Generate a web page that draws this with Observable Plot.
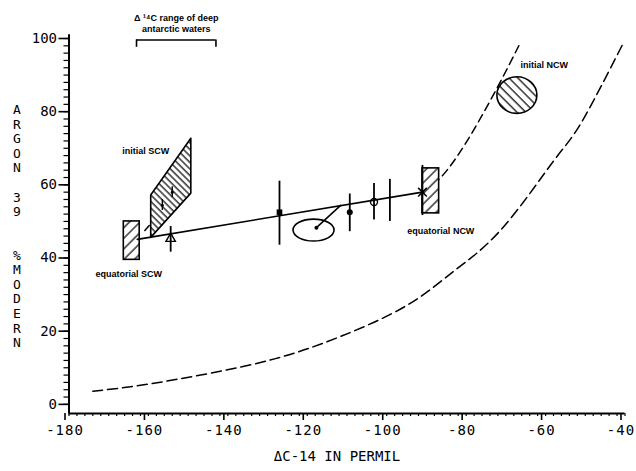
<!DOCTYPE html>
<html><head><meta charset="utf-8">
<script src="https://cdn.jsdelivr.net/npm/d3@7"></script>
<script src="https://cdn.jsdelivr.net/npm/@observablehq/plot@0.6"></script>
<style>
body{margin:0;background:#fff}
svg{display:block}
[aria-label="x-axis tick label"]{letter-spacing:1px}
</style>
</head><body><div id="chart"></div>
<script>
// ---- axis ticks ----
const xTicks = [-180, -160, -140, -120, -100, -80, -60, -40];
const yTicks = [0, 20, 40, 60, 80, 100];
const xMinor = d3.range(-180, -39, 2);
const yMinor = d3.range(0, 101, 2);

// ---- regression line ----
const regX = [-162.8, -91];
const regY = [45.1, 58.0];

// ---- measured points with error bars ----
const ptX   = [-154.4, -127, -109.3, -103.2, -99.2, -91];
const ptY   = [45.3, 52.5, 52.5, 55.3, 56.0, 58.0];
const ptLo  = [41.6, 43.5, 47.2, 50.4, 50.0, 51.6];
const ptHi  = [48.6, 61.0, 57.5, 60.4, 61.5, 65.3];
const ptSym = ["triangle", "square", "circle", "opencircle", "none", "times"];

// small points inside initial SCW box
const smallX  = [-156.5, -154.0];
const smallY  = [54.4, 58.0];
const smallLo = [53.0, 56.5];
const smallHi = [56.0, 59.5];

// ---- boxes ----
const boxX1 = [-166.2, -91.0];
const boxX2 = [-162.2, -86.8];
const boxY1 = [39.5, 52.2];
const boxY2 = [50.0, 64.5];

// initial SCW quadrilateral
const paraX  = [-159.3, -149.2];
const paraY1 = [45.5, 57.6];
const paraY2 = [57.1, 72.6];

// ellipses (cx, cy, rx, ry in data units)
const ellCx = [-118.3, -67.1];
const ellCy = [47.5, 84.4];
const ellRx = [5.16, 5.04];
const ellRy = [3.0, 5.0];
const ellFill = ["none", "url(#hatchB)"];

// connector from ellipse to line
const connX = [-117.7, -111.6];
const connY = [48.3, 54.4];

// ---- dashed curves ----
const upperX = [-91, -86.3, -79.7, -72.1, -66.7];
const upperY = [58, 62.1, 72.1, 86.7, 98.1];
const lowerX = [-174, -162, -145, -128, -112, -95, -83, -71, -58, -51, -40.5];
const lowerY = [3.6, 5.2, 8.4, 12.5, 18.4, 27, 36.5, 48, 66.5, 77, 98.6];
const dashX = [-160.9, -159.8];
const dashY = [47.5, 48.9];

// ---- bracket ----
const bracketX = [-163, -143];
const bracketY = 99.6;
const bracketTickY = 97.6;

// ---- labels ----
const labelText = ["initial SCW", "equatorial SCW", "equatorial NCW", "initial NCW"];
const labelX = [-166.6, -173.3, -94.8, -66.3];
const labelY = [69.2, 35.5, 47.3, 92.6];
const topText = "Δ ¹⁴C range of deep\nantarctic waters";
const topX = -153, topY = 104.2;
const yTitle = "A\nR\nG\nO\nN\n\n3\n9\n\n\n%\nM\nO\nD\nE\nR\nN";
const xTitle = "ΔC-14 IN PERMIL";

// ---- build tables ----
const pts = ptX.map((x, i) => ({x, y: ptY[i], lo: ptLo[i], hi: ptHi[i], s: ptSym[i]}));
const small = smallX.map((x, i) => ({x, y: smallY[i], lo: smallLo[i], hi: smallHi[i]}));
const boxes = boxX1.map((x1, i) => ({x1, x2: boxX2[i], y1: boxY1[i], y2: boxY2[i]}));
const para = paraX.map((x, i) => ({x, y1: paraY1[i], y2: paraY2[i]}));
const reg = regX.map((x, i) => ({x, y: regY[i]}));
const upper = upperX.map((x, i) => ({x, y: upperY[i]}));
const lower = lowerX.map((x, i) => ({x, y: lowerY[i]}));
const dash = dashX.map((x, i) => ({x, y: dashY[i]}));
const conn = connX.map((x, i) => ({x, y: connY[i]}));
const labels = labelText.map((t, i) => ({t, x: labelX[i], y: labelY[i]}));

const annFont = "Liberation Sans";
const sym = s => d => d.s === s;

const ellipseMark = (index, scales) => {
  const g = d3.create("svg:g");
  ellCx.forEach((cx, i) => {
    const px = scales.x(cx), py = scales.y(ellCy[i]);
    const rx = Math.abs(scales.x(cx + ellRx[i]) - px);
    const ry = Math.abs(scales.y(ellCy[i] + ellRy[i]) - py);
    g.append("ellipse").attr("cx", px).attr("cy", py).attr("rx", rx).attr("ry", ry)
      .attr("fill", ellFill[i]).attr("stroke", "black").attr("stroke-width", 1.6);
  });
  return g.node();
};

const svg = Plot.plot({
  width: 636, height: 471,
  marginLeft: 68.5, marginRight: 11.5, marginTop: 38, marginBottom: 58,
  style: {fontFamily: "DejaVu Sans Mono", fontSize: "14px", color: "black", background: "white"},
  x: {domain: [-180, -40], label: null},
  y: {domain: [-2.5, 100], label: null},
  marks: [
    // axes
    Plot.axisX(xMinor, {anchor: "bottom", tickSize: 3, tickFormat: () => "", label: null, strokeWidth: 1.2}),
    Plot.axisX(xTicks, {anchor: "bottom", tickSize: 7, tickPadding: 5, dx: -4, tickFormat: d => String(d), label: null, strokeWidth: 1.6, fontSize: 14}),
    Plot.axisY(yMinor, {anchor: "left", tickSize: 5, tickFormat: () => "", label: null, strokeWidth: 1.2}),
    Plot.axisY(yTicks, {anchor: "left", tickSize: 10, tickPadding: 2, tickFormat: d => String(d), label: null, strokeWidth: 1.6, fontSize: 14}),
    Plot.ruleX([-180], {y1: -2.5, y2: 101, strokeWidth: 2}),
    Plot.ruleY([-2.5], {x1: -180, x2: -40, strokeWidth: 2}),
    // axis titles
    Plot.text([yTitle], {text: d => d, frameAnchor: "left", dx: -56, fontSize: 13, lineHeight: 1.12}),
    Plot.text([xTitle], {text: d => d, frameAnchor: "bottom", dy: 47, dx: -10, fontSize: 14, ariaLabel: "x-title"}),
    // dashed curves
    Plot.line(lower, {x: "x", y: "y", curve: "natural", strokeDasharray: "10,5", strokeWidth: 1.5}),
    Plot.line(upper, {x: "x", y: "y", curve: "natural", strokeDasharray: "8,5", strokeWidth: 1.5}),
    Plot.line(dash, {x: "x", y: "y", strokeWidth: 1.5}),
    // boxes
    Plot.rect(boxes, {x1: "x1", x2: "x2", y1: "y1", y2: "y2", fill: "url(#hatchF)", stroke: "black", strokeWidth: 1.6}),
    Plot.areaY(para, {x: "x", y1: "y1", y2: "y2", fill: "url(#hatchP)", stroke: "black", strokeWidth: 1.6, curve: "linear"}),
    ellipseMark,
    // regression line
    Plot.line(reg, {x: "x", y: "y", strokeWidth: 1.6}),
    Plot.line(conn, {x: "x", y: "y", strokeWidth: 1.5}),
    Plot.dot([conn[0]], {x: "x", y: "y", r: 2, fill: "black"}),
    // error bars and markers
    Plot.ruleX(pts, {x: "x", y1: "lo", y2: "hi", strokeWidth: 1.8}),
    Plot.ruleX(small, {x: "x", y1: "lo", y2: "hi", strokeWidth: 1.4}),
    Plot.dot(small, {x: "x", y: "y", r: 1.5, fill: "black"}),
    Plot.dot(pts, {filter: sym("square"), x: "x", y: "y", symbol: "square", r: 3.2, fill: "black"}),
    Plot.dot(pts, {filter: sym("circle"), x: "x", y: "y", r: 3, fill: "black"}),
    Plot.dot(pts, {filter: sym("opencircle"), x: "x", y: "y", r: 3.5, fill: "none", stroke: "black", strokeWidth: 1.4}),
    Plot.dot(pts, {filter: sym("triangle"), x: "x", y: "y", symbol: "triangle", r: 3.5, fill: "none", stroke: "black", strokeWidth: 1.4}),
    Plot.dot(pts, {filter: sym("times"), x: "x", y: "y", symbol: "times", r: 4, stroke: "black", strokeWidth: 1.5}),
    Plot.dot(pts, {filter: sym("times"), x: "x", y: "y", r: 1.8, fill: "black"}),
    // bracket
    Plot.ruleY([bracketY], {x1: bracketX[0], x2: bracketX[1], strokeWidth: 1.6}),
    Plot.ruleX(bracketX, {y1: bracketTickY, y2: bracketY, strokeWidth: 1.6}),
    // annotation labels
    Plot.text(labels, {x: "x", y: "y", text: "t", textAnchor: "start", fontFamily: annFont, fontWeight: "bold", fontSize: 9}),
    Plot.text([topText], {x: topX, y: topY, text: d => d, fontFamily: annFont, fontWeight: "bold", fontSize: 9, lineHeight: 1.2})
  ]
});

const defs = document.createElementNS("http://www.w3.org/2000/svg", "defs");
defs.innerHTML = `
<pattern id="hatchF" patternUnits="userSpaceOnUse" width="7.5" height="7.5" patternTransform="rotate(45)">
  <rect width="7.5" height="7.5" fill="white"/><line x1="1" y1="0" x2="1" y2="7.5" stroke="black" stroke-width="1.2"/></pattern>
<pattern id="hatchP" patternUnits="userSpaceOnUse" width="4.6" height="4.6" patternTransform="rotate(-45)">
  <rect width="4.6" height="4.6" fill="white"/><line x1="1" y1="0" x2="1" y2="4.6" stroke="black" stroke-width="1.2"/></pattern>
<pattern id="hatchB" patternUnits="userSpaceOnUse" width="6.2" height="6.2" patternTransform="rotate(-45)">
  <rect width="6.2" height="6.2" fill="white"/><line x1="1" y1="0" x2="1" y2="6.2" stroke="black" stroke-width="1.2"/></pattern>`;
svg.insertBefore(defs, svg.firstChild);
const xt = svg.querySelector('[aria-label="x-title"]');
if (xt) xt.setAttribute("letter-spacing", "1px");
document.getElementById("chart").appendChild(svg);
</script>
</body></html>
